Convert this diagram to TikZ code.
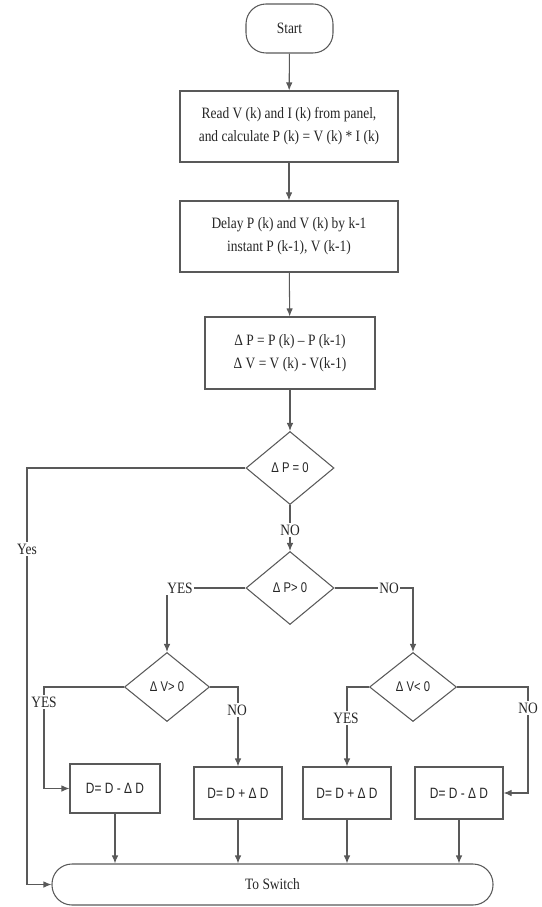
\documentclass[tikz,border=0pt]{standalone}
\usepackage{fontspec}
\setmainfont{Liberation Serif}[FakeStretch=0.85]
\newfontfamily\chartsans{Liberation Sans}[FakeStretch=0.8]
\usetikzlibrary{shapes.geometric,arrows.meta}

\tikzset{
  line/.style={draw=black!65,line width=0.6pt},
  arr/.style={line,-{Latex[length=1.6mm,width=1.3mm]}},
  stepbox/.style={line,rectangle,align=center,inner sep=0pt,text=black!85,
    font=\fontsize{9}{13}\selectfont},
  termbox/.style={line,rectangle,rounded corners=0.4cm,inner sep=0pt,text=black!85,
    font=\fontsize{9}{11}\selectfont},
  testbox/.style={line,diamond,inner sep=0pt,text=black!85,
    font=\chartsans\fontsize{8}{10}\selectfont},
  dutybox/.style={line,rectangle,inner sep=0pt,text=black!85,
    font=\chartsans\fontsize{8.5}{10}\selectfont},
  tag/.style={fill=white,inner sep=1pt,text=black!85,font=\fontsize{9}{11}\selectfont}
}

\begin{document}
\begin{tikzpicture}
\useasboundingbox (0,0) rectangle (10.82,-18.14);

\node[termbox,minimum width=1.74cm,minimum height=0.98cm] (start) at (5.790,-0.570) {Start};
\node[stepbox,minimum width=4.36cm,minimum height=1.42cm] (read) at (5.780,-2.530)
  {Read V (k) and I (k) from panel,\\ and calculate P (k) = V (k) * I (k)};
\node[stepbox,minimum width=4.36cm,minimum height=1.42cm] (delay) at (5.780,-4.730)
  {Delay P (k) and V (k) by k-1\\ instant P (k-1), V (k-1)};
\node[stepbox,minimum width=3.40cm,minimum height=1.44cm] (diff) at (5.800,-7.060)
  {Δ P = P (k) – P (k-1)\\ Δ V = V (k) - V(k-1)};

\node[testbox,minimum width=1.76cm,minimum height=1.46cm] (dpzero) at (5.800,-9.360) {Δ P = 0};
\node[testbox,minimum width=1.76cm,minimum height=1.46cm] (dppos) at (5.800,-11.760) {Δ P> 0};
\node[testbox,minimum width=1.70cm,minimum height=1.38cm] (dvpos) at (3.340,-13.740) {Δ V> 0};
\node[testbox,minimum width=1.74cm,minimum height=1.38cm] (dvneg) at (8.260,-13.740) {Δ V< 0};

\node[dutybox,minimum width=1.80cm,minimum height=0.98cm] (dutya) at (2.300,-15.770) {D= D - Δ D};
\node[dutybox,minimum width=1.76cm,minimum height=1.04cm] (dutyb) at (4.760,-15.860) {D= D + Δ D};
\node[dutybox,minimum width=1.76cm,minimum height=1.04cm] (dutyc) at (6.940,-15.860) {D= D + Δ D};
\node[dutybox,minimum width=1.76cm,minimum height=1.04cm] (dutyd) at (9.180,-15.860) {D= D - Δ D};

\node[termbox,minimum width=8.82cm,minimum height=0.82cm] (switch) at (5.450,-17.690) {To Switch};

\coordinate (yescorner) at (0.540,-9.360);
\coordinate (dvposleft) at (0.880,-13.740);
\coordinate (dvnegright) at (10.560,-13.740);

\draw[arr] (start) -- (read);
\draw[arr] (read) -- (delay);
\draw[arr] (delay) -- (diff);
\draw[arr] (diff) -- (dpzero);
\draw[arr] (dpzero) -- (dppos);
\draw[arr] (dpzero.west) -- (yescorner) |- (switch.west);
\draw[arr] (dppos.west) -| (dvpos.north);
\draw[arr] (dppos.east) -| (dvneg.north);
\draw[arr] (dvpos.west) -- (dvposleft) |- (dutya.west);
\draw[arr] (dvpos.east) -| (dutyb.north);
\draw[arr] (dvneg.west) -| (dutyc.north);
\draw[arr] (dvneg.east) -- (dvnegright) |- (dutyd.east);
\draw[arr] (dutya.south) -- (dutya.south |- switch.north);
\draw[arr] (dutyb.south) -- (dutyb.south |- switch.north);
\draw[arr] (dutyc.south) -- (dutyc.south |- switch.north);
\draw[arr] (dutyd.south) -- (dutyd.south |- switch.north);

\node[tag] (yesall) at (0.540,-10.980) {Yes};
\node[tag] (nozero) at (5.800,-10.600) {NO};
\node[tag] (yespos) at (3.600,-11.760) {YES};
\node[tag] (nopos) at (7.780,-11.760) {NO};
\node[tag] (yesvpos) at (0.880,-14.040) {YES};
\node[tag] (novpos) at (4.740,-14.200) {NO};
\node[tag] (yesvneg) at (6.920,-14.360) {YES};
\node[tag] (novneg) at (10.560,-14.160) {NO};
\end{tikzpicture}
\end{document}
